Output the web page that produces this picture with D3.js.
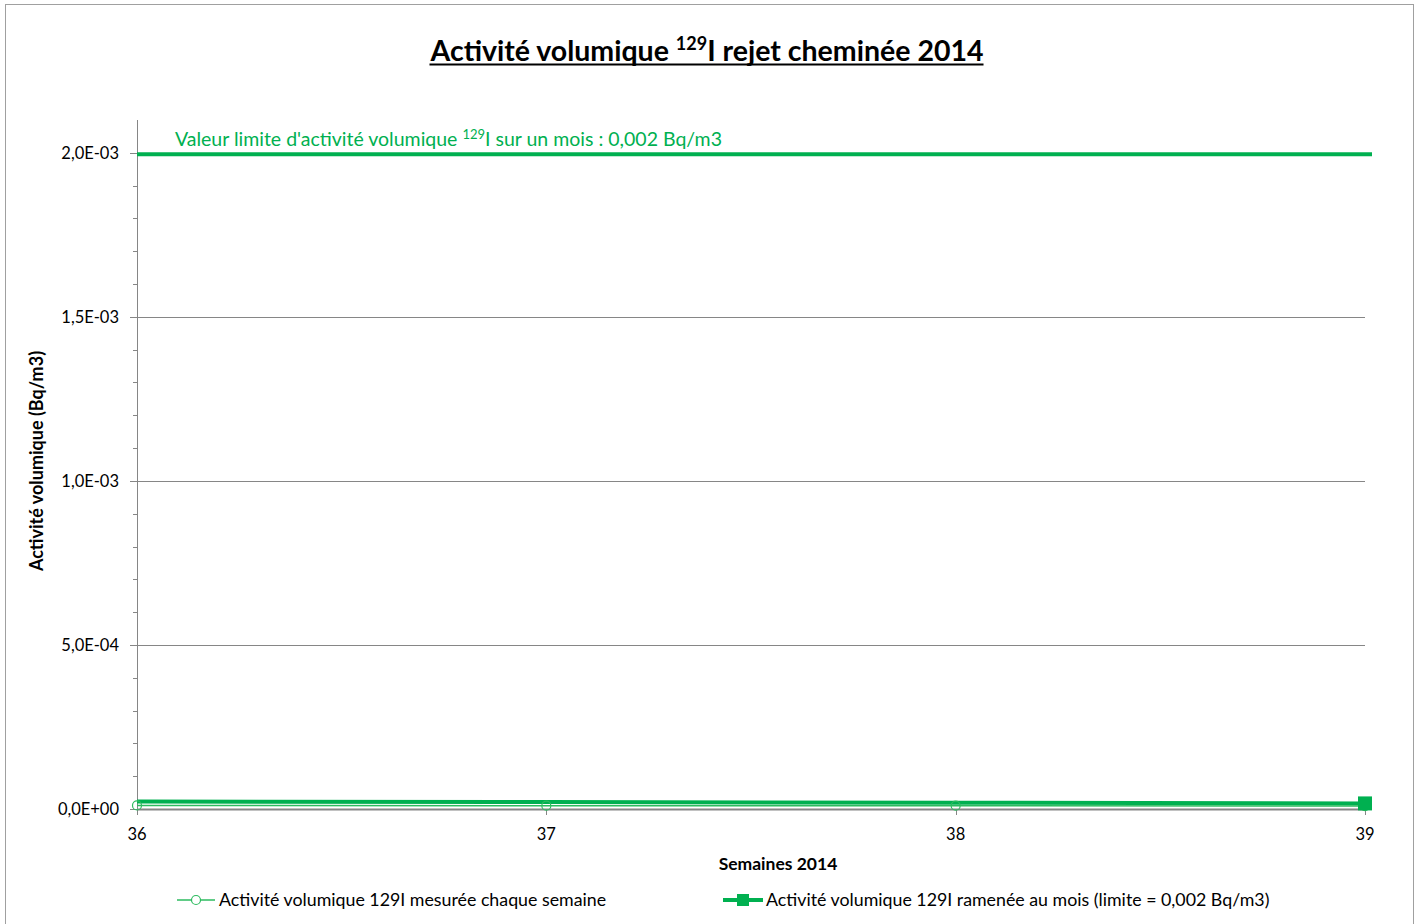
<!DOCTYPE html>
<html>
<head>
<meta charset="utf-8">
<script src="https://cdn.jsdelivr.net/npm/d3@7"></script>
<style>
  body { margin: 0; background: #fff; font-family: Lato, "Liberation Sans", sans-serif; }
  svg text { font-family: Lato, "Liberation Sans", sans-serif; }
</style>
</head>
<body>
<svg id="chart" width="1416" height="924"></svg>
<script>
// Données
const semaines = [36, 37, 38, 39];
const mesureHebdo = [1.1e-5, 1.0e-5, 1.0e-5, 0.9e-5];
const rameneMois = [2.3e-5, 2.1e-5, 1.9e-5, 1.7e-5];
const valeurLimite = 0.002;
const yTicks = [0, 5e-4, 1e-3, 1.5e-3, 2e-3];
const yTickLabels = ["0,0E+00", "5,0E-04", "1,0E-03", "1,5E-03", "2,0E-03"];

const vert = "#00b050";
const vertClair = "#2dbb5f";
const gris = "#868686";

const margin = { top: 120, right: 51, bottom: 115, left: 137 };
const W = 1416, H = 924;
const width = W - margin.left - margin.right;
const height = H - margin.top - margin.bottom;

const svg = d3.select("#chart");

// cadre
svg.append("rect")
  .attr("x", 5.5).attr("y", 4.5)
  .attr("width", 1408).attr("height", 930)
  .attr("fill", "#fff").attr("stroke", "#a0a0a0");

// titre (soulignement tracé à la main pour passer sous l'exposant)
const titre = svg.append("text")
  .attr("x", 707).attr("y", 61)
  .attr("text-anchor", "middle")
  .attr("font-size", 28.5).attr("font-weight", "bold")
  .attr("fill", "#000");
titre.append("tspan").text("Activité volumique ");
titre.append("tspan").attr("font-size", 18).attr("dy", -11).text("129");
titre.append("tspan").attr("dy", 11).text("I rejet cheminée 2014");
const tb = titre.node().getBBox();
svg.append("line")
  .attr("x1", tb.x).attr("x2", tb.x + tb.width)
  .attr("y1", 64.5).attr("y2", 64.5)
  .attr("stroke", "#000").attr("stroke-width", 2);

const g = svg.append("g").attr("transform", `translate(${margin.left},${margin.top})`);

const x = d3.scaleLinear().domain([36, 39]).range([0, width]);
const y = d3.scaleLinear().domain([0, 2.1e-3]).range([height, 0]);

// grille
g.append("g").selectAll("line")
  .data(yTicks.slice(1))
  .enter().append("line")
  .attr("x1", 0).attr("x2", width)
  .attr("y1", d => Math.round(y(d)) + 0.5).attr("y2", d => Math.round(y(d)) + 0.5)
  .attr("stroke", gris).attr("stroke-width", 1);

// axe Y
const minorTicks = d3.range(0, 21).map(i => i * 1e-4);
const axeY = g.append("g").attr("class", "axis axis-y");
axeY.append("line")
  .attr("x1", 0.5).attr("x2", 0.5).attr("y1", 0).attr("y2", height)
  .attr("stroke", gris);
axeY.selectAll(".minor")
  .data(minorTicks)
  .enter().append("line")
  .attr("class", "minor")
  .attr("x1", -4).attr("x2", 0.5)
  .attr("y1", d => Math.round(y(d)) + 0.5).attr("y2", d => Math.round(y(d)) + 0.5)
  .attr("stroke", gris);
axeY.selectAll(".major")
  .data(yTicks)
  .enter().append("line")
  .attr("class", "major")
  .attr("x1", -7).attr("x2", 0.5)
  .attr("y1", d => Math.round(y(d)) + 0.5).attr("y2", d => Math.round(y(d)) + 0.5)
  .attr("stroke", gris);
axeY.selectAll("text")
  .data(yTicks)
  .enter().append("text")
  .attr("x", -18).attr("y", d => y(d))
  .attr("dy", "0.35em")
  .attr("text-anchor", "end")
  .attr("font-size", 16.5)
  .attr("fill", "#000")
  .text((d, i) => yTickLabels[i]);

// axe X
const axeX = g.append("g").attr("class", "axis axis-x").attr("transform", `translate(0,${height})`);
axeX.append("line")
  .attr("x1", 0).attr("x2", width).attr("y1", 0.5).attr("y2", 0.5)
  .attr("stroke", gris).attr("stroke-width", 2);
axeX.selectAll("line.tick")
  .data(semaines)
  .enter().append("line")
  .attr("class", "tick")
  .attr("x1", d => Math.round(x(d)) + 0.5).attr("x2", d => Math.round(x(d)) + 0.5)
  .attr("y1", 0).attr("y2", 6)
  .attr("stroke", gris);
axeX.selectAll("text")
  .data(semaines)
  .enter().append("text")
  .attr("x", d => x(d)).attr("y", 31)
  .attr("text-anchor", "middle")
  .attr("font-size", 16.5)
  .attr("fill", "#000")
  .text(d => d);

// titres des axes
svg.append("text")
  .attr("x", 778).attr("y", 870)
  .attr("text-anchor", "middle")
  .attr("font-size", 17.5).attr("font-weight", "bold")
  .text("Semaines 2014");
svg.append("text")
  .attr("transform", "translate(43,461) rotate(-90)")
  .attr("text-anchor", "middle")
  .attr("font-size", 18).attr("font-weight", "bold")
  .text("Activité volumique (Bq/m3)");

// valeur limite
g.append("line")
  .attr("x1", 0).attr("x2", width + 7)
  .attr("y1", y(valeurLimite) + 1.5).attr("y2", y(valeurLimite) + 1.5)
  .attr("stroke", vert).attr("stroke-width", 4);
const lim = g.append("text")
  .attr("x", 38).attr("y", y(valeurLimite) - 7)
  .attr("font-size", 19.5).attr("fill", vert);
lim.append("tspan").text("Valeur limite d'activité volumique ");
lim.append("tspan").attr("font-size", 13).attr("dy", -7).text("129");
lim.append("tspan").attr("dy", 7).text("I sur un mois : 0,002 Bq/m3");

// séries
const line = d3.line().x((d, i) => x(semaines[i])).y(d => y(d));

g.append("path")
  .datum(rameneMois)
  .attr("d", line)
  .attr("fill", "none")
  .attr("stroke", vert).attr("stroke-width", 4);

g.append("path")
  .datum(mesureHebdo)
  .attr("d", line)
  .attr("fill", "none")
  .attr("stroke", vertClair).attr("stroke-width", 1.5);

g.selectAll(".pt-hebdo")
  .data(mesureHebdo)
  .enter().append("circle")
  .attr("class", "pt-hebdo")
  .attr("cx", (d, i) => x(semaines[i])).attr("cy", d => y(d))
  .attr("r", 4.5)
  .attr("fill", "none").attr("stroke", vertClair).attr("stroke-width", 1.2);

const last = rameneMois.length - 1;
g.append("rect")
  .attr("x", x(semaines[last]) - 7).attr("y", y(rameneMois[last]) - 7)
  .attr("width", 14).attr("height", 14)
  .attr("fill", vert);

// légende
const leg = svg.append("g").attr("transform", "translate(0,900)");
leg.append("line").attr("x1", 177).attr("x2", 215).attr("y1", 0).attr("y2", 0)
  .attr("stroke", vertClair).attr("stroke-width", 1.5);
leg.append("circle").attr("cx", 196).attr("cy", 0).attr("r", 4.5)
  .attr("fill", "#fff").attr("stroke", vertClair).attr("stroke-width", 1.2);
leg.append("text").attr("x", 219).attr("y", 0).attr("dy", "0.35em")
  .attr("font-size", 17.8).text("Activité volumique 129I mesurée chaque semaine");

leg.append("line").attr("x1", 723).attr("x2", 763).attr("y1", 0).attr("y2", 0)
  .attr("stroke", vert).attr("stroke-width", 4);
leg.append("rect").attr("x", 737).attr("y", -6).attr("width", 12).attr("height", 12)
  .attr("fill", vert);
leg.append("text").attr("x", 766).attr("y", 0).attr("dy", "0.35em")
  .attr("font-size", 17.8).text("Activité volumique 129I ramenée au mois (limite = 0,002 Bq/m3)");
</script>
</body>
</html>
